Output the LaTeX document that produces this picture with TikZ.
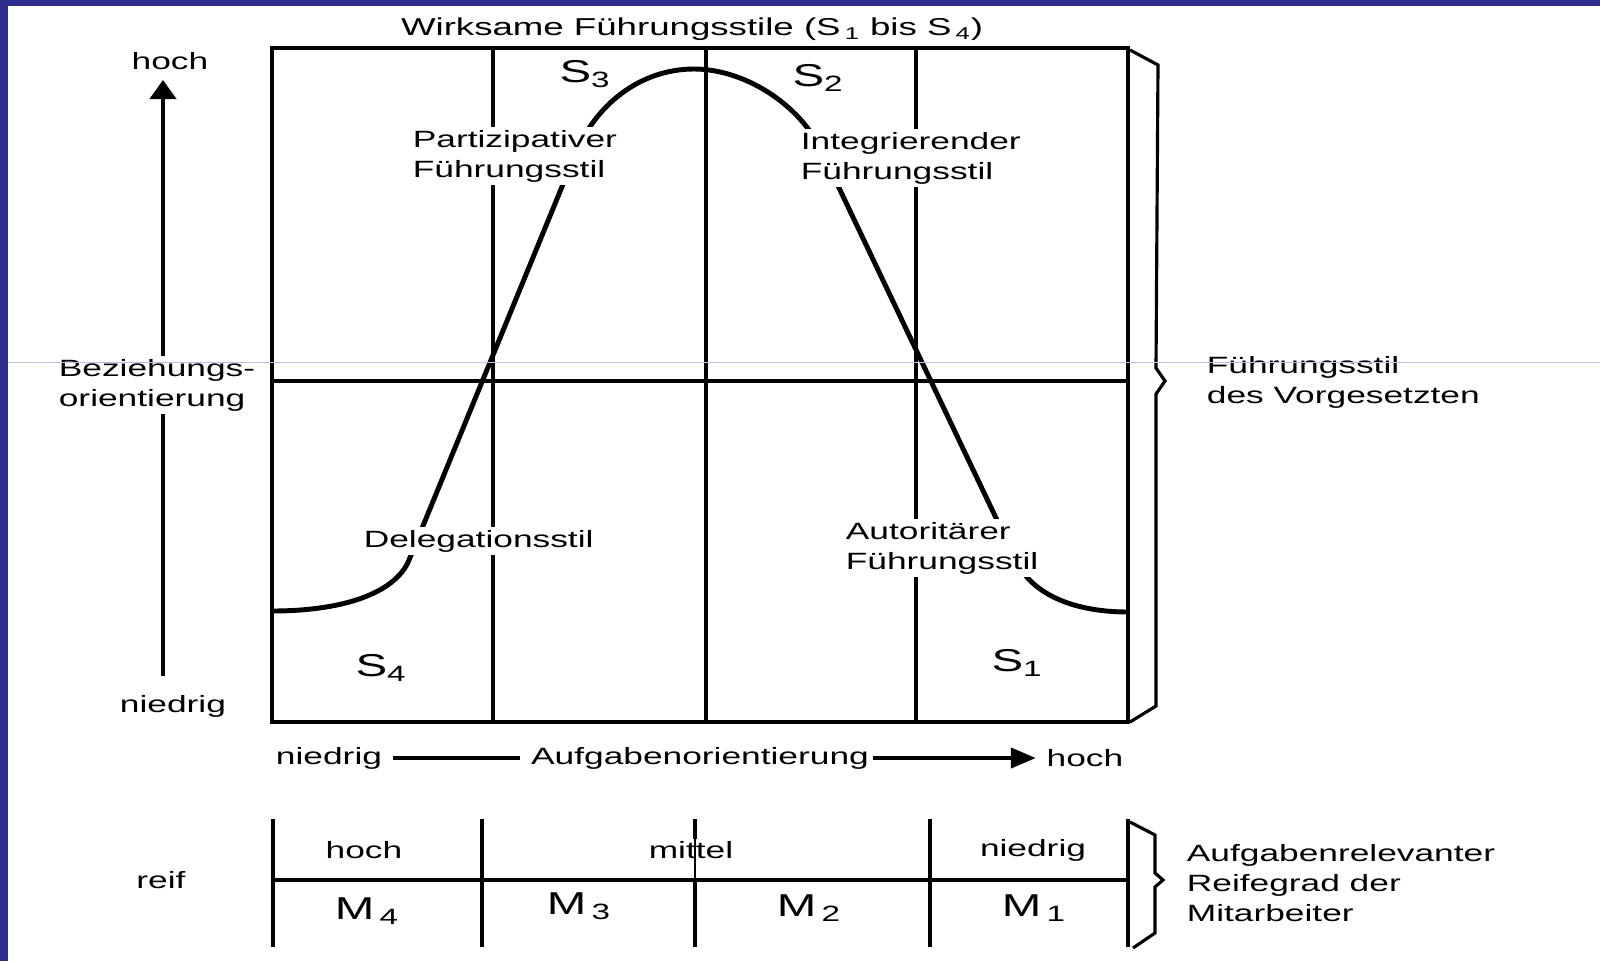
\documentclass[tikz,border=0pt]{standalone}
\usepackage{fontspec}
\setmainfont{Liberation Sans}[FakeStretch=1.5]
\usetikzlibrary{arrows.meta}
\definecolor{slideblue}{RGB}{46,46,140}
\definecolor{guideline}{RGB}{190,190,232}

\begin{document}
\begin{tikzpicture}[x=0.02cm, y=-0.02cm,
  txt/.style={font=\fontsize{13.4}{17}\selectfont, inner sep=2pt},
  lbl/.style={txt, fill=white, align=left},
  big/.style={font=\fontsize{18}{20}\selectfont, inner sep=1pt},
  grid/.style={line width=2.1pt},
  bell/.style={line width=2.8pt},
  brace/.style={line width=1.8pt, line join=miter},
  axis/.style={line width=2.4pt}
]
\useasboundingbox (0,0) rectangle (1600,961);
% slide frame
\fill[slideblue] (0,0) rectangle (8,961);
\fill[slideblue] (0,0) rectangle (1600,6);

% quadrants of the style grid
\draw[grid] (272,48) rectangle (1128,722);
\foreach \x in {493,706,916} \draw[grid] (\x,48) -- (\x,722);
\draw[grid] (272,381) -- (1128,381);

% bell curve of the effective styles
\draw[bell] (272,611) .. controls (350,611) and (397,590) .. (409,560)
  -- (575,155) .. controls (595,105) and (640,69) .. (694,69)
  .. controls (745,69) and (800,105) .. (821,150)
  -- (1016,560) .. controls (1030,592) and (1070,612) .. (1128,612);

\node[txt, font=\fontsize{13.9}{17}\selectfont] (title) at (692,29) {Wirksame Führungsstile (S\,\textsubscript{1} bis S\,\textsubscript{4})};

\node[lbl, anchor=west] (partiz) at (409,156) {Partizipativer\\Führungsstil};
\node[lbl, anchor=west] (integ) at (797,158) {Integrierender\\Führungsstil};
\node[lbl, anchor=west] (deleg) at (360,541) {Delegationsstil};
\node[lbl, anchor=west] (autor) at (842,548) {Autoritärer\\Führungsstil};

\node[big] (s3) at (585,74) {S\textsubscript{3}};
\node[big] (s2) at (818,78) {S\textsubscript{2}};
\node[big] (s4) at (381,668) {S\textsubscript{4}};
\node[big] (s1) at (1017,663) {S\textsubscript{1}};

% relation axis
\coordinate (ybot) at (163,676);
\coordinate (ytop) at (163,80);
\draw[axis, -{Triangle[length=0.38cm, width=0.52cm]}] (ybot) -- (ytop);
\node[txt] (yhigh) at (170,61) {hoch};
\node[lbl, anchor=west] (ylab) at (55,385) {Beziehungs-\\orientierung};
\node[txt] (ylow) at (173,706) {niedrig};

% task axis
\node[txt] (xlow) at (329,758) {niedrig};
\node[txt] (xlab) at (700,758) {Aufgabenorientierung};
\node[txt] (xhigh) at (1085,758) {hoch};
\draw[axis, shorten <=4pt, shorten >=4pt] (xlow) -- (xlab);
\draw[axis, shorten >=4pt, -{Triangle[length=0.5cm, width=0.4cm]}] (xlab) -- (xhigh);

% maturity scale
\foreach \x in {273,482,930,1128} \draw[grid] (\x,819) -- (\x,947);
\draw[grid] (695,819) -- (695,839);
\draw[line width=0.6pt] (695,839) -- (695,880);
\draw[grid] (695,880) -- (695,947);
\draw[grid] (273,880) -- (1128,880);

\node[txt] (mhoch) at (364,850) {hoch};
\node[txt] (mmittel) at (691,850) {mittel};
\node[txt] (mniedrig) at (1033,850) {niedrig};
\node[big] (m4) at (367,911) {M\,\textsubscript{4}};
\node[big] (m3) at (579,906) {M\,\textsubscript{3}};
\node[big] (m2) at (809,908) {M\,\textsubscript{2}};
\node[big] (m1) at (1034,908) {M\,\textsubscript{1}};
\node[txt] (reif) at (161,880) {reif};

% braces on the right
\draw[brace] (1130,50) -- (1158,65) -- (1156,368) -- (1165,381) -- (1156,394) -- (1156,706) -- (1130,722);
\node[txt, align=left, anchor=west] (vorg) at (1203,382) {Führungsstil\\des Vorgesetzten};
\draw[brace] (1130,822) -- (1155,835) -- (1155,873) -- (1163,880) -- (1155,887) -- (1155,933) -- (1133,948);
\node[txt, align=left, anchor=west] (reife) at (1183,883) {Aufgabenrelevanter\\Reifegrad der\\Mitarbeiter};

\draw[guideline, line width=0.5pt] (8,362) -- (1600,362);
\end{tikzpicture}
\end{document}
